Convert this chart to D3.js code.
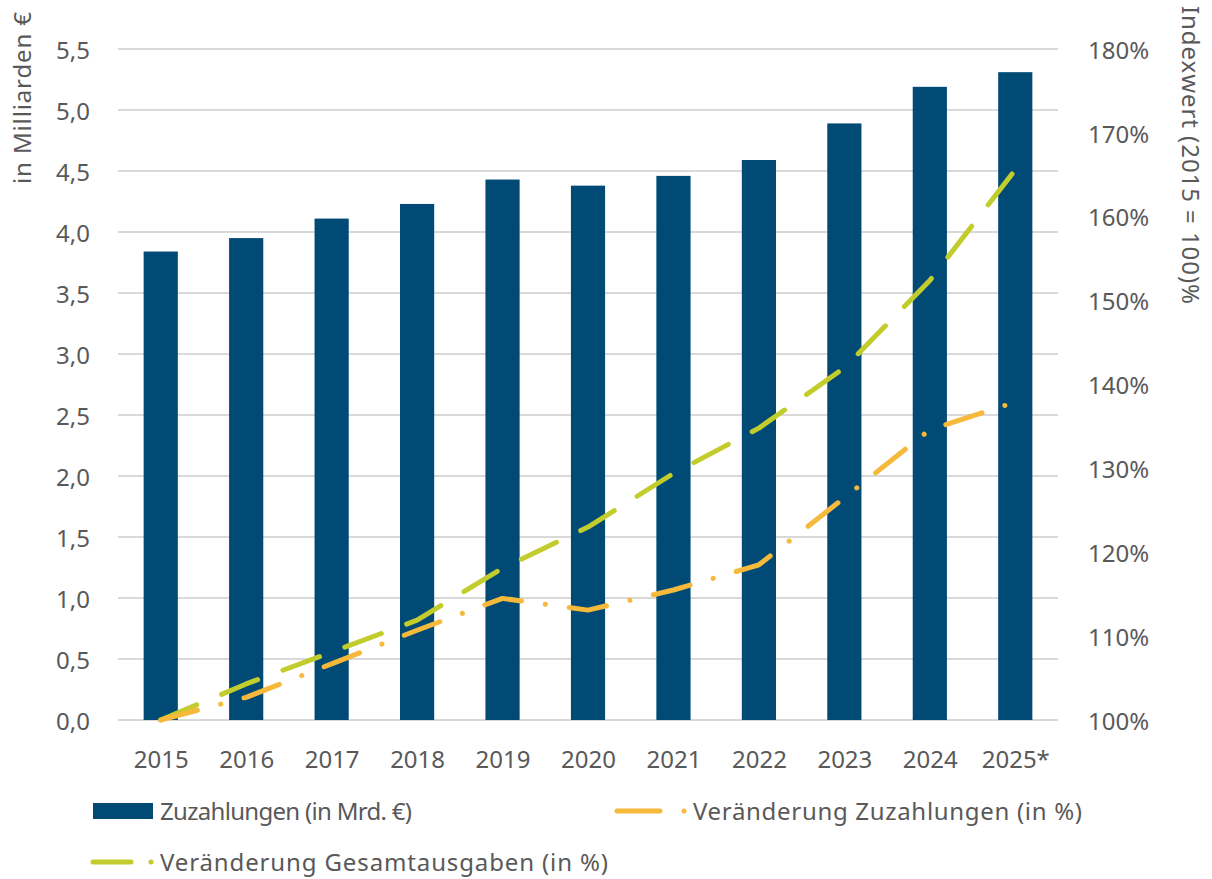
<!DOCTYPE html>
<html>
<head>
<meta charset="utf-8">
<script src="https://cdn.jsdelivr.net/npm/d3@7"></script>
<style>
  body { margin: 0; background: #fff; }
  text { font-family: "Noto Sans", sans-serif; fill: #595959; }
</style>
</head>
<body>
<div id="chart"></div>
<script>
// data
const years = ["2015", "2016", "2017", "2018", "2019", "2020", "2021", "2022", "2023", "2024", "2025*"];
const zuzahlungen = [3.84, 3.95, 4.11, 4.23, 4.43, 4.38, 4.46, 4.59, 4.89, 5.19, 5.31];
const verZuzahlungen = [100, 102.7, 106.7, 110.7, 114.5, 113.1, 115.5, 118.5, 126.5, 134.6, 137.9];
const verGesamt = [100, 104.3, 108.1, 111.9, 118.1, 123.0, 129.4, 134.8, 142.0, 152.4, 165.6];
const leftTicks = [0, 0.5, 1, 1.5, 2, 2.5, 3, 3.5, 4, 4.5, 5, 5.5];
const rightTicks = [100, 110, 120, 130, 140, 150, 160, 170, 180];

const W = 1212, H = 879;
const margin = {top: 49, right: 154, bottom: 159, left: 118};
const width = W - margin.left - margin.right;
const height = H - margin.top - margin.bottom;

const blue = "#014a75", orange = "#f6b93b", green = "#c2cc2c";
const fontSize = "24px";

const svg = d3.select("#chart").append("svg")
    .attr("width", W)
    .attr("height", H);

const g = svg.append("g")
    .attr("transform", `translate(${margin.left},${margin.top})`);

// scales
const x = d3.scaleBand().domain(years).range([0, width]).paddingInner(0.6).paddingOuter(0.3);
const xc = d3.scalePoint().domain(years).range([0, width]).padding(0.5);
const y = d3.scaleLinear().domain([0, 5.5]).range([height, 0]);
const y2 = d3.scaleLinear().domain([100, 180]).range([height, 0]);

// gridlines
g.append("g").attr("class", "grid")
    .selectAll("line")
    .data(leftTicks)
    .join("line")
    .attr("x1", 0).attr("x2", width)
    .attr("y1", d => y(d)).attr("y2", d => y(d))
    .attr("stroke", "#d9d9d9")
    .attr("stroke-width", 2);

// bars
g.append("g").selectAll("rect")
    .data(years.map((d, i) => ({year: d, value: zuzahlungen[i]})))
    .join("rect")
    .attr("x", d => x(d.year))
    .attr("width", x.bandwidth())
    .attr("y", d => y(d.value))
    .attr("height", d => height - y(d.value))
    .attr("fill", blue);

// lines
const line = scale => d3.line()
    .x((d, i) => xc(years[i]))
    .y(d => scale(d));

g.append("path")
    .datum(verGesamt)
    .attr("d", line(y2))
    .attr("fill", "none")
    .attr("stroke", green)
    .attr("stroke-width", 5)
    .attr("stroke-linecap", "round")
    .attr("stroke-linejoin", "round")
    .attr("stroke-dasharray", "39 27");

g.append("path")
    .datum(verZuzahlungen)
    .attr("d", line(y2))
    .attr("fill", "none")
    .attr("stroke", orange)
    .attr("stroke-width", 5)
    .attr("stroke-linecap", "round")
    .attr("stroke-linejoin", "round")
    .attr("stroke-dasharray", "38 24 0.1 24");

// axes
const xAxis = d3.axisBottom(xc).tickSize(0).tickPadding(0);
g.append("g").attr("class", "x-axis")
    .attr("transform", `translate(0,${height})`)
    .call(xAxis)
    .call(a => a.select(".domain").remove())
    .selectAll("text")
    .attr("dy", null)
    .attr("y", 48)
    .style("font-size", fontSize);

const yAxis = d3.axisLeft(y).tickValues(leftTicks).tickSize(0).tickPadding(28)
    .tickFormat(d => d3.format(".1f")(d).replace(".", ","));
g.append("g").attr("class", "y-axis")
    .call(yAxis)
    .call(a => a.select(".domain").remove())
    .selectAll("text")
    .attr("dy", "0.38em")
    .style("font-size", fontSize);

const yAxis2 = d3.axisRight(y2).tickValues(rightTicks).tickSize(0).tickPadding(30)
    .tickFormat(d => d + "%");
g.append("g").attr("class", "y-axis2")
    .attr("transform", `translate(${width},0)`)
    .call(yAxis2)
    .call(a => a.select(".domain").remove())
    .selectAll("text")
    .attr("dy", "0.38em")
    .style("font-size", fontSize);

// axis titles
svg.append("text")
    .attr("transform", "translate(31,98) rotate(-90)")
    .attr("text-anchor", "middle")
    .style("font-size", fontSize)
    .attr("textLength", 172)
    .text("in Milliarden €");

svg.append("text")
    .attr("transform", "translate(1182,155) rotate(90)")
    .attr("text-anchor", "middle")
    .style("font-size", fontSize)
    .attr("textLength", 298)
    .text("Indexwert (2015 = 100)%");

// legend
const legend = svg.append("g").attr("class", "legend");

legend.append("rect")
    .attr("x", 93).attr("y", 803)
    .attr("width", 60).attr("height", 16)
    .attr("fill", blue);
legend.append("text")
    .attr("x", 160).attr("y", 820)
    .style("font-size", fontSize)
    .attr("textLength", 252)
    .text("Zuzahlungen (in Mrd. €)");

legend.append("line")
    .attr("x1", 617).attr("x2", 660).attr("y1", 811).attr("y2", 811)
    .attr("stroke", orange).attr("stroke-width", 5).attr("stroke-linecap", "round");
legend.append("circle")
    .attr("cx", 684).attr("cy", 811).attr("r", 2.5)
    .attr("fill", orange);
legend.append("text")
    .attr("x", 693).attr("y", 820)
    .style("font-size", fontSize)
    .attr("textLength", 389)
    .text("Veränderung Zuzahlungen (in %)");

legend.append("line")
    .attr("x1", 93).attr("x2", 131).attr("y1", 862).attr("y2", 862)
    .attr("stroke", green).attr("stroke-width", 5).attr("stroke-linecap", "round");
legend.append("circle")
    .attr("cx", 151).attr("cy", 862).attr("r", 2.5)
    .attr("fill", green);
legend.append("text")
    .attr("x", 160).attr("y", 871)
    .style("font-size", fontSize)
    .attr("textLength", 448)
    .text("Veränderung Gesamtausgaben (in %)");
</script>
</body>
</html>
